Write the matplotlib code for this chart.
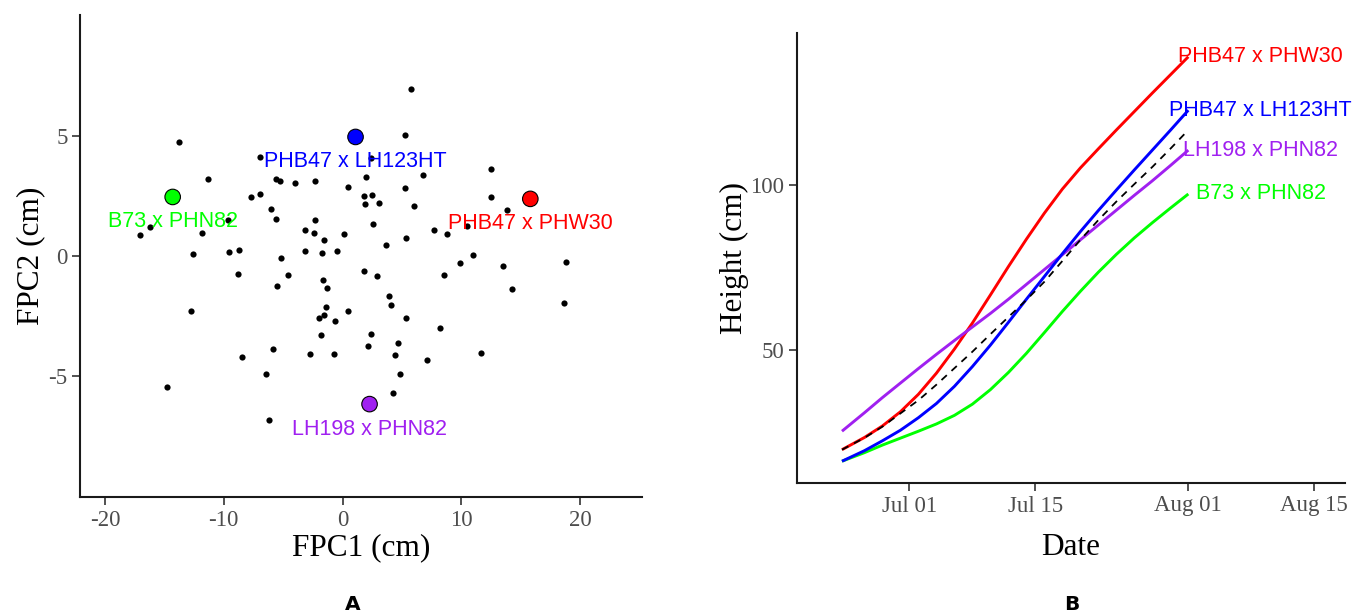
import matplotlib
matplotlib.use("Agg")
import matplotlib.pyplot as plt
import matplotlib.dates as mdates
import pandas as pd

plt.rcParams["axes.unicode_minus"] = False

# ---------------- Panel A data ----------------
fpc1 = [-13.77, -6.95, -11.35, -5.60, -5.24, -4.00, -2.32, 0.44, -7.71, -6.92,
        -6.02, -5.57, -2.34, -9.62, -16.21, -17.05, -11.86, -3.16, -2.37, -1.56,
        0.15, -12.61, -9.56, -8.69, -5.18, -3.16, -1.70, -0.46, 5.79, 5.29,
        2.37, 12.53, 2.00, 6.78, 5.29, 1.79, 2.51, 1.89, 3.10, 6.05,
        12.51, 13.83, 10.46, 2.57, 5.35, 7.73, 8.77, 3.69, 10.96, 9.92,
        13.54, 18.80, -8.77, -4.61, -5.49, -1.62, -1.33, -12.73, -1.36, -1.58,
        -1.98, -0.63, 0.46, -1.84, -5.83, -8.44, -2.74, -0.69, -6.47, -14.78,
        -6.21, 1.81, 2.91, 8.57, 14.27, 18.63, 3.89, 4.11, 5.35, 8.19,
        2.43, 2.12, 4.67, 4.45, 7.12, 11.64, 4.82, 4.23]
fpc2 = [4.76, 4.14, 3.20, 3.20, 3.14, 3.04, 3.14, 2.86, 2.45, 2.57,
        1.95, 1.54, 1.51, 1.49, 1.20, 0.89, 0.95, 1.07, 0.97, 0.67,
        0.92, 0.10, 0.18, 0.25, -0.10, 0.21, 0.11, 0.22, 6.95, 5.03,
        4.07, 3.61, 3.30, 3.36, 2.85, 2.49, 2.53, 2.18, 2.21, 2.08,
        2.45, 1.92, 1.26, 1.35, 0.75, 1.07, 0.90, 0.46, 0.04, -0.28,
        -0.42, -0.23, -0.76, -0.80, -1.24, -1.00, -1.32, -2.29, -2.14, -2.45,
        -2.57, -2.70, -2.28, -3.29, -3.89, -4.21, -4.08, -4.07, -4.92, -5.46,
        -6.85, -0.64, -0.83, -0.79, -1.39, -1.96, -1.68, -2.04, -2.58, -3.01,
        -3.25, -3.75, -3.63, -4.13, -4.33, -4.04, -4.90, -5.71]

hl_names = ["PHB47 x LH123HT", "B73 x PHN82", "PHB47 x PHW30", "LH198 x PHN82"]
hl_fpc1 = [1.09, -14.30, 15.80, 2.27]
hl_fpc2 = [4.96, 2.46, 2.38, -6.17]
hl_colors = ["#0000FF", "#00FF00", "#FF0000", "#A020F0"]

# ---------------- Panel B data ----------------
dates = ["2017-06-23 12:00", "2017-06-26 00:00", "2017-06-28 00:00", "2017-06-30 00:00",
         "2017-07-02 00:00", "2017-07-04 00:00", "2017-07-06 00:00", "2017-07-08 00:00",
         "2017-07-10 00:00", "2017-07-12 00:00", "2017-07-14 00:00", "2017-07-16 00:00",
         "2017-07-18 00:00", "2017-07-20 00:00", "2017-07-22 00:00", "2017-07-24 00:00",
         "2017-07-26 00:00", "2017-07-28 00:00", "2017-07-30 00:00", "2017-08-01 00:00"]
h_phw30 = [19.8, 23.5, 27.0, 31.3, 36.6, 43.0, 50.3, 58.2, 66.7, 75.3,
           83.6, 91.5, 98.8, 105.2, 111.0, 116.7, 122.3, 127.9, 133.4, 138.9]
h_lh123 = [16.3, 19.5, 22.5, 25.7, 29.5, 33.8, 39.0, 45.0, 51.5, 58.4,
           65.4, 72.3, 79.2, 85.9, 92.3, 98.5, 104.6, 110.6, 116.6, 122.7]
h_lh198 = [25.4, 31.0, 35.6, 40.0, 44.4, 48.7, 52.9, 57.0, 61.1, 65.4,
           69.9, 74.4, 78.9, 83.4, 87.9, 92.4, 96.9, 101.3, 105.9, 110.6]
h_b73 = [16.3, 18.9, 21.2, 23.3, 25.4, 27.6, 30.2, 33.6, 38.0, 43.2,
         49.0, 55.3, 61.7, 67.8, 73.6, 79.0, 84.0, 88.6, 93.0, 97.3]
h_mean = [19.8, 23.4, 26.8, 30.8, 34.8, 39.5, 44.5, 49.5, 54.8, 60.0,
          65.2, 70.7, 77.0, 83.4, 89.4, 95.0, 100.3, 105.5, 111.0, 116.7]
line_names = ["PHB47 x PHW30", "PHB47 x LH123HT", "LH198 x PHN82", "B73 x PHN82"]
line_colors = ["#FF0000", "#0000FF", "#A020F0", "#00FF00"]
label_nudge_days = [-1.1, -2.1, -0.6, 0.8]
x_ticks = ["2017-07-01", "2017-07-15", "2017-08-01", "2017-08-15"]
y_ticks_b = [50, 100]
y_ticks_a = [-5, 0, 5]
x_ticks_a = [-20, -10, 0, 10, 20]

SERIF = "Liberation Serif"
SANS = "Liberation Sans"
TICKCOL = "#4D4D4D"

fig = plt.figure(figsize=(13.64, 6.15), dpi=100)

def style_axes(ax):
    for s in ["top", "right"]:
        ax.spines[s].set_visible(False)
    for s in ["left", "bottom"]:
        ax.spines[s].set_color("#1a1a1a")
        ax.spines[s].set_linewidth(1.5)
    ax.tick_params(axis="both", length=5.5, width=1.2, color="#333333",
                   labelcolor=TICKCOL, labelsize=16.5, pad=3.5)
    for lab in ax.get_xticklabels() + ax.get_yticklabels():
        lab.set_fontfamily(SERIF)

# ---------------- Panel A ----------------
axA = fig.add_axes([80 / 1364, 1 - 497 / 615, 562 / 1364, 482 / 615])
axA.scatter(fpc1, fpc2, s=20, color="black", linewidths=0, zorder=2)
axA.scatter(hl_fpc1, hl_fpc2, s=125, c=hl_colors, edgecolors="black",
            linewidths=0.8, zorder=3)
for name, x, y, c in zip(hl_names, hl_fpc1, hl_fpc2, hl_colors):
    axA.annotate(name, (x, y), xytext=(0, -18), textcoords="offset points",
                 ha="center", va="center", color=c, fontsize=15.5,
                 fontfamily=SANS, zorder=4)
axA.set_xlim(-22.1, 25.2)
axA.set_ylim(-10.04, 10.04)
axA.set_xticks(x_ticks_a)
axA.set_yticks(y_ticks_a)
axA.set_xlabel("FPC1 (cm)", fontsize=22.5, fontfamily=SERIF, labelpad=2)
axA.set_ylabel("FPC2 (cm)", fontsize=22.5, fontfamily=SERIF, labelpad=2)
style_axes(axA)

# ---------------- Panel B ----------------
axB = fig.add_axes([797 / 1364, 1 - 483 / 615, 548 / 1364, 450 / 615])
d = pd.to_datetime(dates, format="%Y-%m-%d %H:%M")
series = [h_phw30, h_lh123, h_lh198, h_b73]
zorders = [3, 4, 3.5, 2]
for vals, c, z in zip(series, line_colors, zorders):
    axB.plot(d, vals, color=c, lw=2.1, zorder=z, solid_capstyle="butt",
             solid_joinstyle="round")
axB.plot(d, h_mean, color="black", lw=1.3, ls=(0, (4, 3.5)), zorder=5)
for name, vals, c, nd in zip(line_names, series, line_colors, label_nudge_days):
    axB.text(d[-1] + pd.Timedelta(days=nd), vals[-1], name, color=c,
             fontsize=15.5, fontfamily=SANS, ha="left", va="center", zorder=6)
axB.set_xlim(pd.Timestamp("2017-06-18 12:00"), pd.Timestamp("2017-08-18 10:00"))
axB.set_ylim(9.7, 146.1)
axB.set_xticks(pd.to_datetime(x_ticks))
axB.xaxis.set_major_formatter(mdates.DateFormatter("%b %d"))
axB.set_yticks(y_ticks_b)
axB.set_xlabel("Date", fontsize=22.5, fontfamily=SERIF, labelpad=12)
axB.set_ylabel("Height (cm)", fontsize=22.5, fontfamily=SERIF, labelpad=1)
style_axes(axB)

fig.text(353 / 1364, 1 - 605 / 615, "A", fontsize=14.5, fontweight="bold",
         fontfamily="DejaVu Sans", ha="center", va="center")
fig.text(1072 / 1364, 1 - 605 / 615, "B", fontsize=14.5, fontweight="bold",
         fontfamily="DejaVu Sans", ha="center", va="center")

fig.savefig("out.png", dpi=100)
